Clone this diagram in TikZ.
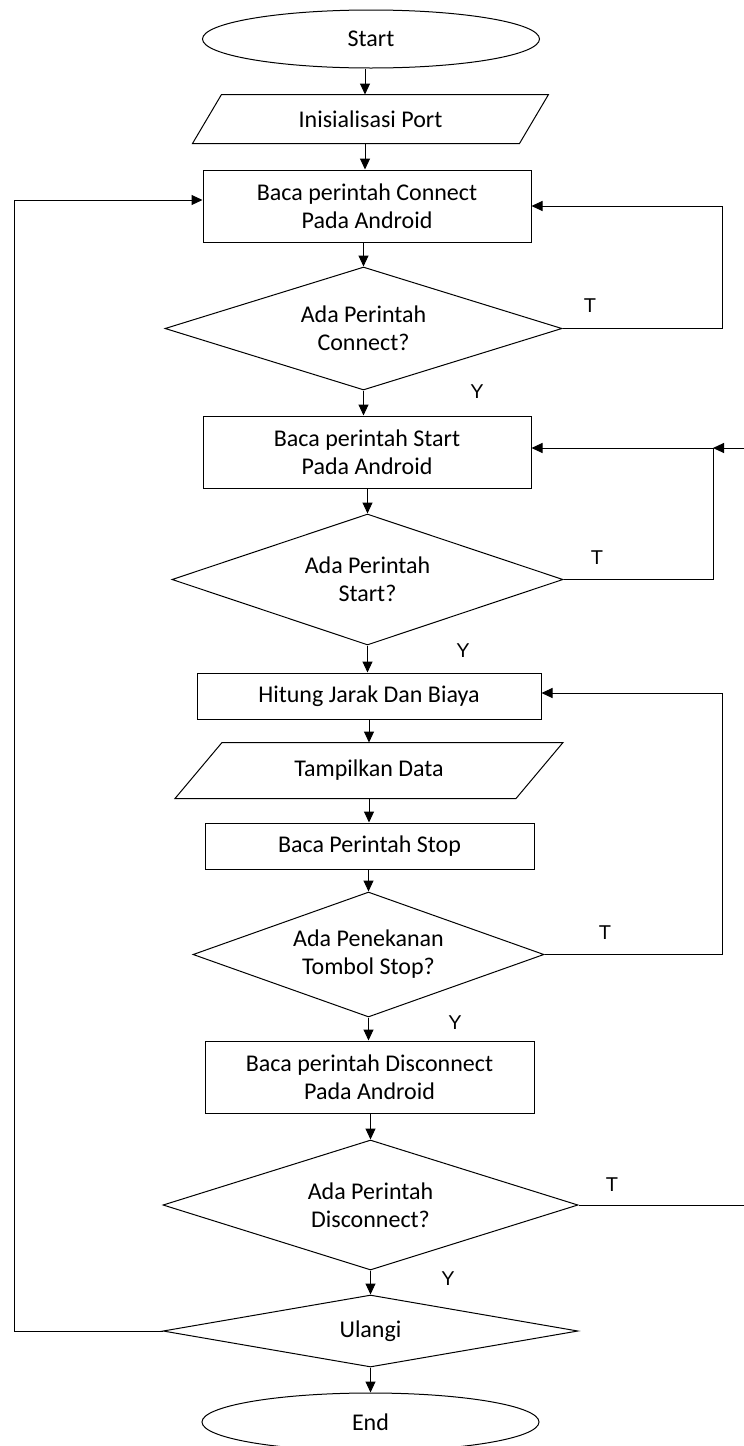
\documentclass[tikz,border=0pt]{standalone}
\usepackage{fontspec}
\setmainfont{Carlito}
\newfontfamily\arialf{Liberation Sans}
\usetikzlibrary{shapes.geometric,arrows.meta}
\begin{document}
\begin{tikzpicture}[x=1pt,y=-1pt,
  line width=1pt,
  every node/.style={font=\fontsize{24}{28}\selectfont, text=black},
  procbox/.style={draw, rectangle, inner sep=0pt, align=center},
  terminal/.style={draw, ellipse, inner sep=0pt},
  decision/.style={draw, diamond, inner sep=0pt, align=center},
  iobox/.style={rectangle, inner sep=0pt, align=center},
  arr/.style={-{Triangle[length=11pt,width=10pt]}},
  lbl/.style={font=\arialf\fontsize{20}{22}\selectfont}
]
\useasboundingbox (0,0) rectangle (744,1446);
\clip (0,0) rectangle (744,1446);

% nodes
\node[terminal, minimum width=337pt, minimum height=58pt] (start) at (371,39) {Start};
\node[iobox, minimum width=326pt, minimum height=48pt] (p1) at (370.5,119) {Inisialisasi Port};
\draw ([xshift=14.5pt]p1.north west) -- ([xshift=14.5pt]p1.north east) -- ([xshift=-14.5pt]p1.south east) -- ([xshift=-14.5pt]p1.south west) -- cycle;
\node[procbox, minimum width=328pt, minimum height=72pt] (b1) at (367,206) {Baca perintah Connect\\Pada Android};
\node[decision, shape aspect=3.2, minimum width=397pt, minimum height=123pt] (d1) at (363.5,328.5) {Ada Perintah\\Connect?};
\node[procbox, minimum width=328pt, minimum height=72pt] (b2) at (367,452) {Baca perintah Start\\Pada Android};
\node[decision, shape aspect=3, minimum width=391pt, minimum height=131pt] (d2) at (367.5,579.5) {Ada Perintah\\Start?};
\node[procbox, minimum width=344pt, minimum height=46pt] (b3) at (369,696) {Hitung Jarak Dan Biaya};
\node[iobox, minimum width=340pt, minimum height=55pt] (p2) at (369,770.5) {Tampilkan Data};
\draw ([xshift=23.5pt]p2.north west) -- ([xshift=23.5pt]p2.north east) -- ([xshift=-23.5pt]p2.south east) -- ([xshift=-23.5pt]p2.south west) -- cycle;
\node[procbox, minimum width=329pt, minimum height=46pt] (b4) at (369.5,846) {Baca Perintah Stop};
\node[decision, shape aspect=2.8, minimum width=351pt, minimum height=125pt] (d3) at (368.5,954.5) {Ada Penekanan\\Tombol Stop?};
\node[procbox, minimum width=329pt, minimum height=72pt] (b5) at (369.5,1077) {Baca perintah Disconnect\\Pada Android};
\node[decision, shape aspect=3.2, minimum width=415pt, minimum height=130pt] (d4) at (370.5,1205) {Ada Perintah\\Disconnect?};
\node[decision, shape aspect=5.7, minimum width=415pt, minimum height=72pt] (d5) at (370.5,1331) {Ulangi};
\node[terminal, minimum width=337pt, minimum height=58pt] (end) at (370.5,1422) {End};

% main flow
\draw[arr] ([xshift=-6pt]start.south) -- ([xshift=-6pt]start.south |- p1.north);
\draw[arr] ([xshift=-5.5pt]p1.south) -- ([xshift=-5.5pt]p1.south |- b1.north);
\draw[arr] (b1.south -| d1.north) -- (d1.north);
\draw[arr] (d1.south) -- (d1.south |- b2.north);
\draw[arr] (b2.south -| d2.north) -- (d2.north);
\draw[arr] (d2.south) -- (d2.south |- b3.north);
\draw[arr] (b3.south) -- (b3.south |- p2.north);
\draw[arr] (p2.south) -- (p2.south |- b4.north);
\draw[arr] (b4.south -| d3.north) -- (d3.north);
\draw[arr] (d3.south) -- (d3.south |- b5.north);
\draw[arr] (b5.south -| d4.north) -- (d4.north);
\draw[arr] (d4.south) -- (d5.north);
\draw[arr] (d5.south) -- (end.north);

% loops
\coordinate (rx1) at (722,0);
\coordinate (rx2) at (713,0);
\coordinate (rx3) at (752,0);
\coordinate (lx) at (14,0);
\draw[arr] (d1.east) -- (d1.east -| rx1) |- (b1.east);
\draw[arr] (d2.east) -- (d2.east -| rx2) |- ([yshift=4pt]b2.east);
\draw[arr] (d4.east) -- (d4.east -| rx3) |- ([yshift=4pt]b2.east -| rx2);
\draw[arr] (d3.east) -- (d3.east -| rx1) |- ([yshift=3pt]b3.east);
\draw[arr] (d5.west) -- (d5.west -| lx) |- ([yshift=6pt]b1.west);

% labels
\node[lbl] (t1) at (590,306) {T};
\node[lbl] (y1) at (477,392) {Y};
\node[lbl] (t2) at (597,558) {T};
\node[lbl] (y2) at (463,651) {Y};
\node[lbl] (t3) at (605,933) {T};
\node[lbl] (y3) at (455,1023) {Y};
\node[lbl] (t4) at (612,1185) {T};
\node[lbl] (y4) at (448,1279) {Y};
\end{tikzpicture}
\end{document}
